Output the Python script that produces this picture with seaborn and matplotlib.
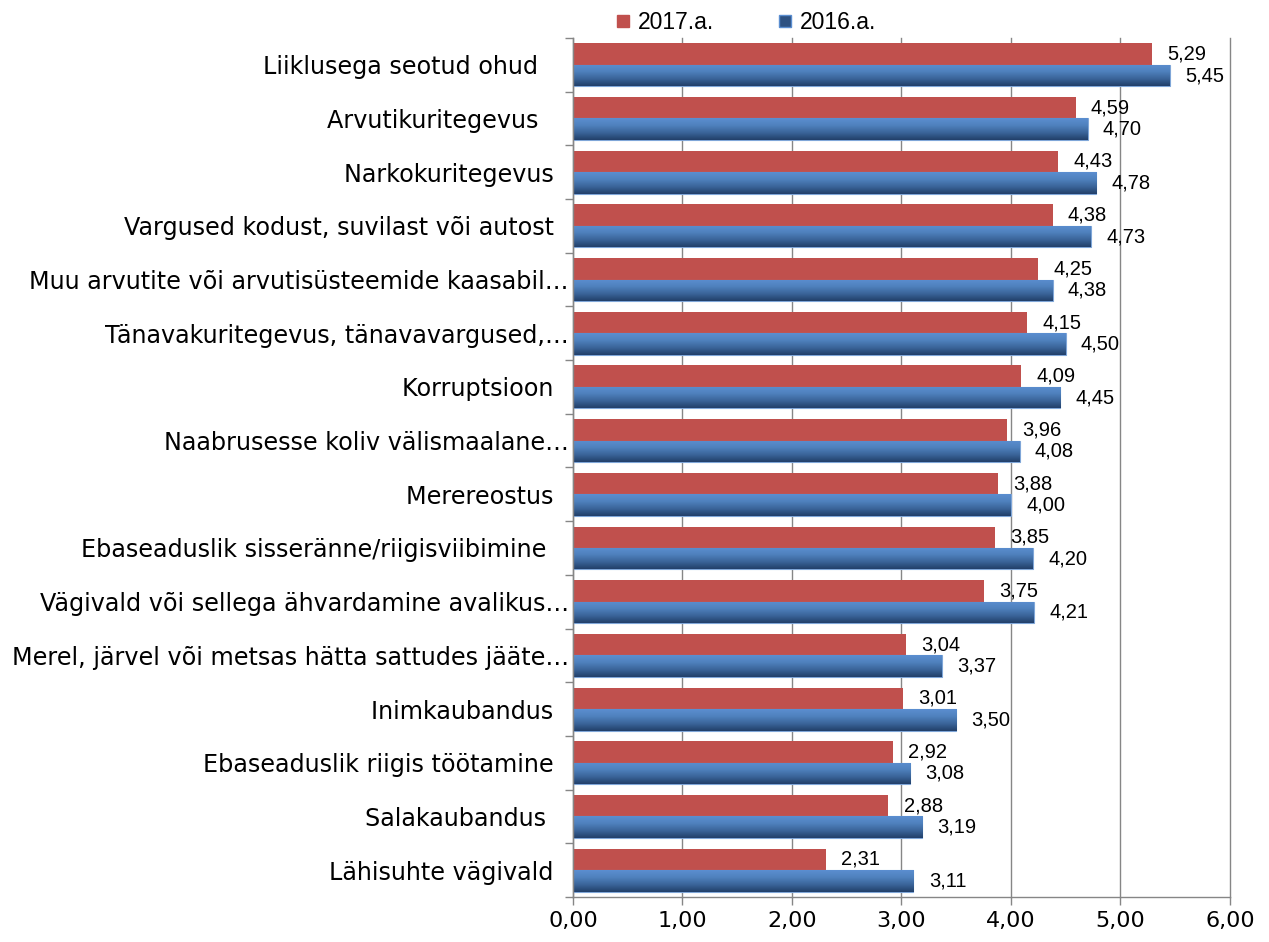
import numpy as np
import pandas as pd
import seaborn as sns
import matplotlib.pyplot as plt
from matplotlib.colors import LinearSegmentedColormap
from matplotlib.lines import Line2D
from matplotlib.ticker import FixedLocator

# Data
categories = [
    "Liiklusega seotud ohud",
    "Arvutikuritegevus",
    "Narkokuritegevus",
    "Vargused kodust, suvilast või autost",
    "Muu arvutite või arvutisüsteemide kaasabil…",
    "Tänavakuritegevus, tänavavargused,…",
    "Korruptsioon",
    "Naabrusesse koliv välismaalane…",
    "Merereostus",
    "Ebaseaduslik sisseränne/riigisviibimine",
    "Vägivald või sellega ähvardamine avalikus…",
    "Merel, järvel või metsas hätta sattudes jääte…",
    "Inimkaubandus",
    "Ebaseaduslik riigis töötamine",
    "Salakaubandus",
    "Lähisuhte vägivald",
]
# trailing spaces in the source labels
label_pad = [4, 4, 2, 2, 0, 0, 2, 0, 2, 3, 0, 0, 2, 2, 3, 2]
values_2017 = [5.29, 4.59, 4.43, 4.38, 4.25, 4.15, 4.09, 3.96, 3.88, 3.85, 3.75, 3.04, 3.01, 2.92, 2.88, 2.31]
values_2016 = [5.45, 4.70, 4.78, 4.73, 4.38, 4.50, 4.45, 4.08, 4.00, 4.20, 4.21, 3.37, 3.50, 3.08, 3.19, 3.11]
series = ["2017.a.", "2016.a."]
x_ticks = [0, 1, 2, 3, 4, 5, 6]

df = pd.DataFrame({
    "category": categories * 2,
    "value": values_2017 + values_2016,
    "year": [series[0]] * len(categories) + [series[1]] * len(categories),
})

red = "#C0504D"
blue = "#4F81BD"

fig = plt.figure(figsize=(12.69, 9.42), dpi=100)
ax = fig.add_axes([0.4515, 0.0478, 0.5177, 0.9119])

sns.barplot(data=df, y="category", x="value", hue="year", hue_order=series,
            palette=[red, blue], orient="h", width=0.8, saturation=1,
            legend=False, ax=ax)

# gradient on the 2016 bars
grad = LinearSegmentedColormap.from_list("g", ["#5B8ED0", "#4F81BD", "#3A6499", "#22406A"])
arr = np.linspace(0, 1, 64).reshape(-1, 1)
for p in ax.containers[1]:
    x0, y0 = p.get_x(), p.get_y()
    w, h = p.get_width(), p.get_height()
    p.set_edgecolor("#7FA6D8")
    p.set_linewidth(0.8)
    im = ax.imshow(arr, cmap=grad, aspect="auto", origin="upper",
                   extent=(x0, x0 + w, y0 + h, y0), zorder=p.get_zorder() + 0.1)
    im.set_clip_path(p)

ax.set_xlim(0, 6)
ax.set_ylim(len(categories) - 0.5, -0.5)

for cont, vals in zip(ax.containers, [values_2017, values_2016]):
    ax.bar_label(cont, labels=[f"{v:.2f}".replace(".", ",") for v in vals],
                 padding=11, fontsize=14.5, family="Liberation Sans", color="black")

ax.set_xticks(x_ticks)
ax.set_xticklabels([f"{t:.2f}".replace(".", ",") for t in x_ticks], fontsize=16)
ax.set_yticks(range(len(categories)))
ax.set_yticklabels([c + " " * n for c, n in zip(categories, label_pad)], fontsize=17.2)
ax.tick_params(axis="y", length=0, pad=3)
ax.yaxis.set_minor_locator(FixedLocator(np.arange(-0.5, len(categories), 1)))
ax.tick_params(axis="y", which="minor", length=6, color="#868686", width=1)
ax.tick_params(axis="x", length=6, color="#868686", width=1, pad=4)
ax.set_xlabel("")
ax.set_ylabel("")

ax.grid(axis="x", color="#868686", linewidth=1)
ax.set_axisbelow(True)
for line in ax.get_xgridlines():
    line.set_clip_on(False)
for s in ["top", "right"]:
    ax.spines[s].set_visible(False)
for s in ["left", "bottom"]:
    ax.spines[s].set_color("#868686")
    ax.spines[s].set_linewidth(1)

handles = [
    Line2D([], [], marker="s", linestyle="", markersize=9, color=red),
    Line2D([], [], marker="s", linestyle="", markersize=9, color="#2E5282",
           markeredgecolor="#5B8ED0"),
]
fig.legend(handles, series, loc="center left", bbox_to_anchor=(615 / 1269, 0.9756),
           ncol=2, frameon=False, handlelength=0.7, handletextpad=0.3,
           columnspacing=2.75, prop={"family": "Liberation Sans", "size": 16.5},
           borderaxespad=0, borderpad=0)

plt.savefig("out.png", dpi=100)
